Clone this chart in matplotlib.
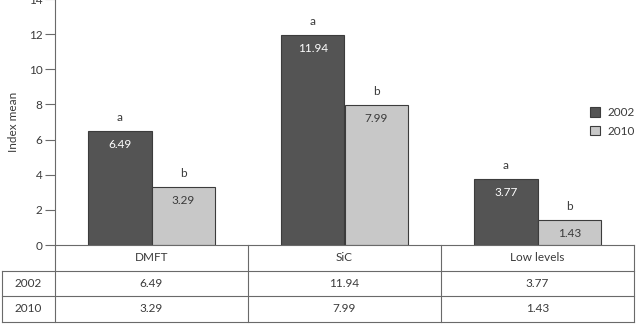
import matplotlib
matplotlib.use("Agg")
import matplotlib.pyplot as plt
from matplotlib.lines import Line2D
import numpy as np

categories = ["DMFT", "SiC", "Low levels"]
years = ["2002", "2010"]
values_2002 = [6.49, 11.94, 3.77]
values_2010 = [3.29, 7.99, 1.43]
letters_2002 = ["a", "a", "a"]
letters_2010 = ["b", "b", "b"]
yticks = [0, 2, 4, 6, 8, 10, 12, 14]

plt.rcParams["font.family"] = ["Lato", "DejaVu Sans"]
FS = 8.5
plt.rcParams["font.size"] = FS

DARK = "#545454"
LIGHT = "#c8c8c8"
EDGE = "#3c3c3c"
TXT = "#3a3a3a"
LINE = "#6a6a6a"

fig = plt.figure(figsize=(6.36, 3.28), dpi=100)
ax = fig.add_axes([55 / 636, (328 - 245) / 328, (634 - 55) / 636, 246 / 328])

x = np.arange(len(categories))
w = 0.33
b1 = ax.bar(x - w / 2, values_2002, w, color=DARK, edgecolor=EDGE, linewidth=0.8, label=years[0])
b2 = ax.bar(x + w / 2, values_2010, w, color=LIGHT, edgecolor=EDGE, linewidth=0.8, label=years[1])

for rect, v, let in zip(b1, values_2002, letters_2002):
    cx = rect.get_x() + rect.get_width() / 2
    ax.text(cx, v - 0.45, f"{v:.2f}", ha="center", va="top", color="white", fontsize=FS)
    ax.text(cx, v + 0.45, let, ha="center", va="bottom", color=TXT, fontsize=FS)
for rect, v, let in zip(b2, values_2010, letters_2010):
    cx = rect.get_x() + rect.get_width() / 2
    ax.text(cx, v - 0.45, f"{v:.2f}", ha="center", va="top", color=TXT, fontsize=FS)
    ax.text(cx, v + 0.45, let, ha="center", va="bottom", color=TXT, fontsize=FS)

ax.set_xlim(-0.5, len(categories) - 0.5)
ax.set_ylim(0, 14)
ax.set_yticks(yticks)
ax.set_xticks([])
ax.tick_params(axis="y", length=7, width=0.8, color=LINE, pad=2, labelcolor=TXT, labelsize=FS)
for s in ["top", "right"]:
    ax.spines[s].set_visible(False)
ax.spines["left"].set_color(LINE)
ax.spines["bottom"].set_color(LINE)
ax.spines["left"].set_linewidth(0.8)
ax.spines["bottom"].set_linewidth(0.8)
ax.set_ylabel("Index mean", color=TXT, fontsize=FS, labelpad=7)

ax.legend(loc="center left", bbox_to_anchor=(0.905, 0.5), frameon=False,
          handlelength=0.9, handleheight=0.9, handletextpad=0.6,
          labelspacing=0.6, fontsize=FS, labelcolor=TXT)

# data table beneath the axes
tr = ax.get_xaxis_transform()
rh = 25.5 / 246
left = -0.5 - 53 / 193
right = len(categories) - 0.5
kw = dict(transform=tr, clip_on=False, color=LINE, linewidth=0.8)

# horizontal rules
for i in range(1, 4):
    ax.add_line(Line2D([left, right], [-rh * i, -rh * i], **kw))
# vertical rules
ax.add_line(Line2D([left, left], [-rh, -rh * 3], **kw))
ax.add_line(Line2D([-0.5, -0.5], [0, -rh * 3], **kw))
for i in range(len(categories)):
    ax.add_line(Line2D([i + 0.5, i + 0.5], [0, -rh * 3], **kw))

for i, c in enumerate(categories):
    ax.text(i, -rh * 0.5, c, transform=tr, ha="center", va="center", color=TXT, fontsize=FS)
for r, (yr, vals) in enumerate(zip(years, [values_2002, values_2010])):
    yc = -rh * (r + 1.5)
    ax.text((left - 0.5) / 2, yc, yr, transform=tr, ha="center", va="center", color=TXT, fontsize=FS)
    for i, v in enumerate(vals):
        ax.text(i, yc, f"{v:.2f}", transform=tr, ha="center", va="center", color=TXT, fontsize=FS)

fig.savefig("out.png", dpi=100)
